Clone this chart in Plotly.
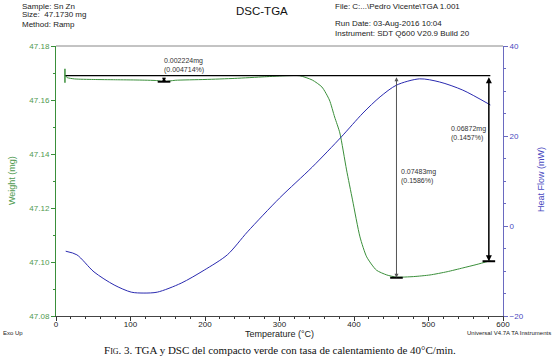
import plotly.graph_objects as go

# ---------------- data ----------------
tga_temp = [12, 15, 25, 50, 80, 110, 135, 145, 160, 200, 240, 280, 310, 327, 344, 357, 367,
            374, 381, 390, 398, 408, 417, 430, 444, 457, 480, 502, 525, 546, 565, 583]
tga_weight = [47.1692, 47.1683, 47.1678, 47.1676, 47.1675, 47.1674, 47.1672, 47.1668, 47.1673,
              47.1676, 47.1680, 47.1686, 47.1690, 47.1690, 47.1674, 47.1648, 47.1600,
              47.1537, 47.1478, 47.1341, 47.1230, 47.1093, 47.1019, 47.0970, 47.0952,
              47.0944, 47.0946, 47.0952, 47.0964, 47.0978, 47.0991, 47.1005]

dsc_temp = [13, 28, 51, 78, 101, 118, 136, 168, 199, 230, 257, 300, 344, 383, 412, 435,
            457, 488, 515, 546, 583]
dsc_heat = [-5.6, -6.4, -10.2, -13.1, -14.7, -14.9, -14.7, -12.7, -9.8, -6.4, -1.3, 6.2,
            13.1, 19.8, 25.1, 28.7, 31.3, 32.7, 32.0, 30.2, 26.9]

x_ticks = [0, 100, 200, 300, 400, 500, 600]
weight_ticks = [47.08, 47.10, 47.12, 47.14, 47.16, 47.18]
heat_ticks = [-20, 0, 20, 40]

baseline_weight = 47.1690
baseline_span = [12, 583]
step_temps = [145, 457, 581]
step_deltas = [0.002224, 0.07483, 0.06872]
step_labels = ["0.002224mg<br>(0.004714%)", "0.07483mg<br>(0.1586%)", "0.06872mg<br>(0.1457%)"]

header_left = ["Sample: Sn Zn", "Size:  47.1730 mg", "Method: Ramp"]
header_right_top = "File: C:...\\Pedro Vicente\\TGA 1.001"
header_right_bottom = ["Run Date: 03-Aug-2016 10:04", "Instrument: SDT Q600 V20.9 Build 20"]

GREEN = "#3a8f3a"
GREEN_TXT = "#4f9a4f"
BLUE = "#2a2ab0"
BLUE_AX = "#6a6ac0"
BLUE_TXT = "#4848c0"
FONT = "Liberation Sans, Arial, sans-serif"

W, H = 554, 364
L, R, T, B = 56, 503, 46, 316


def xp(px):
    return (px - L) / (R - L)


def yp(py):
    return (B - py) / (B - T)


fig = go.Figure()

fig.add_trace(go.Scatter(x=tga_temp, y=tga_weight, mode="lines",
                         line=dict(color=GREEN, width=1, shape="spline", smoothing=0.6),
                         yaxis="y", hoverinfo="skip", showlegend=False))
fig.add_trace(go.Scatter(x=dsc_temp, y=dsc_heat, mode="lines",
                         line=dict(color=BLUE, width=1, shape="spline", smoothing=0.8),
                         yaxis="y2", hoverinfo="skip", showlegend=False))

# baseline horizontal reference line
fig.add_trace(go.Scatter(x=baseline_span, y=[baseline_weight, baseline_weight], mode="lines",
                         line=dict(color="black", width=1.2), yaxis="y",
                         hoverinfo="skip", showlegend=False))
# start tick on baseline
fig.add_trace(go.Scatter(x=[baseline_span[0]], y=[baseline_weight], mode="markers",
                         marker=dict(symbol="line-ns", size=10, line=dict(color=GREEN, width=1.5)),
                         yaxis="y", hoverinfo="skip", showlegend=False))

line_styles = [("black", 1), ("#555555", 1), ("black", 1.5)]
annotations = []
for tt, dd, (col, wd) in zip(step_temps, step_deltas, line_styles):
    annotations.append(dict(x=tt, y=baseline_weight - dd, ax=tt, ay=baseline_weight,
                            xref="x", yref="y", axref="x", ayref="y", text="",
                            showarrow=True, arrowhead=2, arrowside="end+start",
                            arrowsize=0.8, arrowwidth=wd, arrowcolor=col))
    fig.add_trace(go.Scatter(x=[tt], y=[baseline_weight - dd], mode="markers",
                             marker=dict(symbol="line-ew", size=9, line=dict(color="black", width=2)),
                             yaxis="y", hoverinfo="skip", showlegend=False))

small = dict(family=FONT, size=7, color="#333333")
annotations.append(dict(x=xp(162), y=yp(65.5), xref="paper", yref="paper", text=step_labels[0],
                        showarrow=False, xanchor="left", yanchor="middle", align="left", font=small))
annotations.append(dict(x=xp(399), y=yp(176), xref="paper", yref="paper", text=step_labels[1],
                        showarrow=False, xanchor="left", yanchor="middle", align="left", font=small))
annotations.append(dict(x=xp(488), y=yp(133), xref="paper", yref="paper", text=step_labels[2],
                        showarrow=False, xanchor="right", yanchor="middle", align="left", font=small))

hdr = dict(family=FONT, size=8, color="#222222")
for i, s in enumerate(header_left):
    annotations.append(dict(x=xp(20), y=yp(6 + 9 * i), xref="paper", yref="paper", text=s,
                            showarrow=False, xanchor="left", yanchor="middle", font=hdr))
annotations.append(dict(x=xp(333), y=yp(6), xref="paper", yref="paper", text=header_right_top,
                        showarrow=False, xanchor="left", yanchor="middle", font=hdr))
annotations.append(dict(x=xp(333), y=yp(28), xref="paper", yref="paper",
                        text="<br>".join(header_right_bottom),
                        showarrow=False, xanchor="left", yanchor="middle", align="left",
                        font=hdr))
annotations.append(dict(x=xp(262), y=yp(11), xref="paper", yref="paper", text="DSC-TGA",
                        showarrow=False, xanchor="center", yanchor="middle",
                        font=dict(family=FONT, size=11.5, color="#111111")))

annotations.append(dict(x=xp(12), y=yp(181), xref="paper", yref="paper", text="Weight (mg)",
                        textangle=-90, showarrow=False, xanchor="center", yanchor="middle",
                        font=dict(family=FONT, size=9, color=GREEN_TXT)))
annotations.append(dict(x=xp(541), y=yp(180), xref="paper", yref="paper", text="Heat Flow (mW)",
                        textangle=-90, showarrow=False, xanchor="center", yanchor="middle",
                        font=dict(family=FONT, size=9, color=BLUE_TXT)))
annotations.append(dict(x=xp(279), y=yp(334), xref="paper", yref="paper", text="Temperature (°C)",
                        showarrow=False, xanchor="center", yanchor="middle",
                        font=dict(family=FONT, size=9, color="#222222")))
annotations.append(dict(x=xp(1), y=yp(333), xref="paper", yref="paper", text="Exo Up",
                        showarrow=False, xanchor="left", yanchor="middle",
                        font=dict(family=FONT, size=6, color="#222222")))
annotations.append(dict(x=xp(553), y=yp(333), xref="paper", yref="paper",
                        text="Universal V4.7A TA Instruments",
                        showarrow=False, xanchor="right", yanchor="middle",
                        font=dict(family=FONT, size=6, color="#222222")))
annotations.append(dict(x=xp(280), y=yp(350), xref="paper", yref="paper",
                        text="F<span style='font-size:8px'>IG</span>. 3. TGA y DSC del compacto verde con tasa de calentamiento de 40°C/min.",
                        showarrow=False, xanchor="center", yanchor="middle",
                        font=dict(family="Liberation Serif, Times New Roman, serif", size=11, color="#111111")))

fig.update_layout(
    width=W, height=H,
    margin=dict(l=L, r=W - R, t=T, b=H - B, pad=0),
    paper_bgcolor="white", plot_bgcolor="white",
    showlegend=False,
    xaxis=dict(range=[0, 600], tickvals=x_ticks, ticks="outside", ticklen=4, tickcolor="#333333",
               showline=True, linecolor="#444444", linewidth=1, showgrid=False, zeroline=False,
               tickfont=dict(family=FONT, size=8, color="#222222"), ticklabelstandoff=-4,
               minor=dict(dtick=20, ticks="outside", ticklen=2, tickcolor="#333333"),
               mirror=False),
    yaxis=dict(range=[47.08, 47.18], tickvals=weight_ticks, tickformat=".2f", ticks="outside",
               ticklen=4, tickcolor=GREEN, showline=True, linecolor=GREEN, linewidth=1,
               showgrid=False, zeroline=False,
               tickfont=dict(family=FONT, size=8, color=GREEN_TXT),
               minor=dict(dtick=0.01, ticks="outside", ticklen=2, tickcolor=GREEN)),
    yaxis2=dict(range=[-20, 40], tickvals=heat_ticks, overlaying="y", side="right", ticks="outside",
                ticklen=4, tickcolor=BLUE_AX, showline=True, linecolor=BLUE_AX, linewidth=1,
                showgrid=False, zeroline=False,
                tickfont=dict(family=FONT, size=8, color=BLUE_TXT),
                minor=dict(dtick=5, ticks="outside", ticklen=2, tickcolor=BLUE_AX)),
    annotations=annotations,
    shapes=[dict(type="line", xref="paper", yref="paper", x0=0, x1=1, y0=1, y1=1,
                 line=dict(color="#888888", width=1))],
)

fig.write_html("out.html", config={"displayModeBar": False},
               post_script="document.body.style.margin='0';")
